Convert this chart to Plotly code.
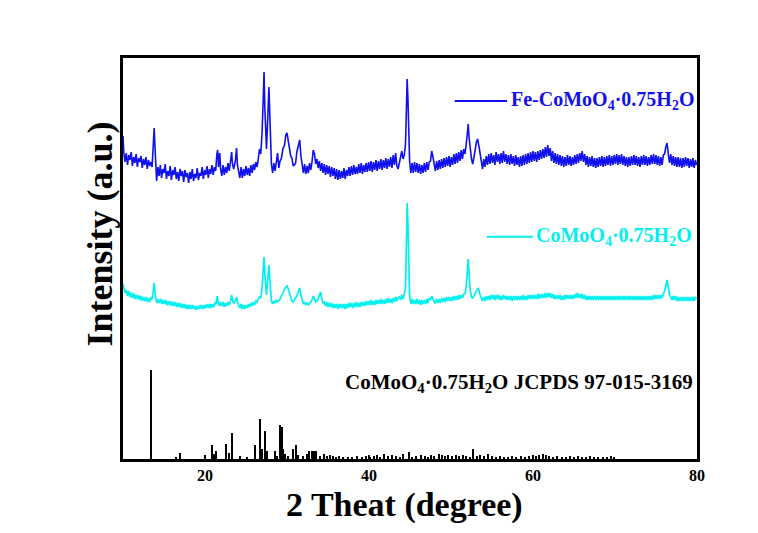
import plotly.graph_objects as go

# ---------------- data ----------------
# Fe-CoMoO4·0.75H2O pattern: (2theta, intensity a.u.)
fe_pattern = [
(10.0,73),(10.1,56),(10.25,47),(10.4,56),(10.55,44),(10.7,54),(10.85,49),(11.0,57),(11.15,43),(11.3,52),
(11.45,46),(11.6,55),(11.75,42),(11.9,51),(12.05,47),(12.2,53),(12.35,41),(12.5,50),(12.65,44),(12.8,52),
(12.95,40),(13.1,49),(13.25,43),(13.4,47),(13.55,42),(13.7,60),(13.8,81),(13.9,62),(14.0,44),(14.1,28),
(14.25,42),(14.4,33),(14.55,44),(14.7,31),(14.85,40),(15.0,36),(15.15,45),(15.3,30),(15.45,38),(15.6,33),
(15.75,43),(15.9,29),(16.05,39),(16.2,34),(16.35,42),(16.5,30),(16.65,37),(16.8,28),(16.95,40),(17.1,33),
(17.25,38),(17.4,27),(17.55,39),(17.7,32),(17.85,36),(18.0,26),(18.15,37),(18.3,30),(18.45,40),(18.6,28),
(18.75,35),(18.9,31),(19.05,41),(19.2,29),(19.35,36),(19.5,33),(19.65,42),(19.8,30),(19.95,39),(20.1,34),
(20.25,43),(20.4,31),(20.55,40),(20.7,35),(20.85,44),(21.0,34),(21.15,42),(21.3,38),(21.45,55),(21.55,59),
(21.65,42),(21.8,56),(21.9,40),(22.05,33),(22.2,44),(22.35,34),(22.5,42),(22.65,36),(22.8,46),(22.95,38),
(23.1,47),(23.25,57),(23.35,45),(23.5,40),(23.7,48),(23.85,61),(23.95,44),(24.1,36),(24.25,31),(24.4,42),
(24.55,31),(24.7,40),(24.85,33),(25.0,43),(25.15,34),(25.3,41),(25.45,33),(25.6,44),(25.75,36),(25.9,45),
(26.05,39),(26.2,47),(26.35,42),(26.5,50),(26.65,60),(26.8,55),(26.95,75),(27.1,110),(27.2,137),(27.3,100),
(27.4,70),(27.5,60),(27.6,80),(27.7,115),(27.8,122),(27.9,95),(28.0,60),(28.1,45),(28.25,36),(28.4,46),
(28.55,38),(28.7,50),(28.85,56),(29.0,41),(29.15,48),(29.3,50),(29.5,60),(29.7,64),(29.85,74),(30.0,76),
(30.15,68),(30.3,63),(30.45,53),(30.6,51),(30.75,43),(30.9,44),(31.05,46),(31.2,57),(31.4,63),(31.55,69),
(31.7,53),(31.85,45),(32.0,36),(32.15,45),(32.3,35),(32.45,43),(32.6,36),(32.75,46),(32.9,39),(33.05,47),
(33.2,59),(33.35,55),(33.5,45),(33.65,50),(33.8,41),(33.95,48),(34.1,38),(34.25,46),(34.4,36),(34.55,45),
(34.7,34),(34.85,44),(35.0,35),(35.15,43),(35.3,32),(35.45,42),(35.6,33),(35.75,41),(35.9,30),(36.05,40),
(36.2,29),(36.35,39),(36.5,30),(36.65,38),(36.8,31),(36.95,41),(37.1,30),(37.25,39),(37.4,33),(37.55,42),
(37.7,33),(37.85,43),(38.0,34),(38.15,44),(38.3,35),(38.45,42),(38.6,35),(38.75,45),(38.9,36),(39.05,46),
(39.2,35),(39.35,44),(39.5,37),(39.65,46),(39.8,37),(39.95,47),(40.1,38),(40.25,48),(40.4,37),(40.55,47),
(40.7,39),(40.85,49),(41.0,38),(41.15,48),(41.3,40),(41.45,50),(41.6,39),(41.75,49),(41.9,41),(42.05,51),
(42.2,40),(42.35,50),(42.5,42),(42.65,52),(42.8,41),(42.95,54),(43.1,44),(43.25,56),(43.4,43),(43.55,40),
(43.7,48),(43.85,52),(44.0,58),(44.15,50),(44.3,54),(44.45,65),(44.55,95),(44.65,130),(44.75,110),(44.85,75),
(44.95,48),(45.1,36),(45.25,46),(45.4,36),(45.55,47),(45.7,37),(45.85,46),(46.0,36),(46.15,45),(46.3,35),
(46.45,44),(46.6,36),(46.75,46),(46.9,37),(47.05,47),(47.2,39),(47.35,47),(47.5,48),(47.65,58),(47.8,52),
(47.95,42),(48.1,38),(48.25,48),(48.4,39),(48.55,49),(48.7,40),(48.85,50),(49.0,41),(49.15,51),(49.3,42),
(49.45,52),(49.6,43),(49.75,53),(49.9,42),(50.05,52),(50.2,44),(50.35,55),(50.5,45),(50.65,56),(50.8,46),
(50.95,57),(51.1,48),(51.25,59),(51.4,50),(51.55,60),(51.7,55),(51.85,64),(52.0,75),(52.1,85),(52.2,72),
(52.35,58),(52.5,50),(52.65,45),(52.8,55),(52.95,59),(53.1,67),(53.25,70),(53.4,63),(53.55,56),(53.7,45),
(53.85,40),(54.0,50),(54.15,42),(54.3,53),(54.45,44),(54.6,55),(54.75,45),(54.9,56),(55.05,46),(55.2,54),
(55.35,44),(55.5,57),(55.65,47),(55.8,55),(55.95,45),(56.1,56),(56.25,46),(56.4,58),(56.55,47),(56.7,55),
(56.85,45),(57.0,54),(57.15,44),(57.3,55),(57.45,45),(57.6,53),(57.75,43),(57.9,54),(58.05,44),(58.2,52),
(58.35,42),(58.5,53),(58.65,43),(58.8,54),(58.95,44),(59.1,55),(59.25,45),(59.4,56),(59.55,46),(59.7,57),
(59.85,47),(60.0,58),(60.15,48),(60.3,57),(60.45,47),(60.6,58),(60.75,49),(60.9,59),(61.05,50),(61.2,60),
(61.35,51),(61.5,62),(61.65,52),(61.8,64),(61.95,53),(62.1,61),(62.25,48),(62.4,58),(62.55,46),(62.7,56),
(62.85,45),(63.0,55),(63.15,44),(63.3,54),(63.45,43),(63.6,53),(63.75,42),(63.9,52),(64.05,43),(64.2,54),
(64.35,44),(64.5,53),(64.65,43),(64.8,52),(64.95,44),(65.1,54),(65.25,45),(65.4,55),(65.55,46),(65.7,56),
(65.85,48),(66.0,58),(66.15,47),(66.3,55),(66.45,44),(66.6,53),(66.75,42),(66.9,52),(67.05,43),(67.2,53),
(67.35,42),(67.5,51),(67.65,41),(67.8,51),(67.95,42),(68.1,52),(68.25,43),(68.4,53),(68.55,42),(68.7,52),
(68.85,43),(69.0,53),(69.15,44),(69.3,54),(69.45,43),(69.6,53),(69.75,44),(69.9,54),(70.05,45),(70.2,55),
(70.35,44),(70.5,54),(70.65,45),(70.8,55),(70.95,44),(71.1,53),(71.25,43),(71.4,52),(71.55,42),(71.7,52),
(71.85,43),(72.0,53),(72.15,44),(72.3,54),(72.45,44),(72.6,53),(72.75,43),(72.9,52),(73.05,42),(73.2,53),
(73.35,44),(73.5,54),(73.65,44),(73.8,53),(73.95,43),(74.1,52),(74.25,44),(74.4,54),(74.55,45),(74.7,55),
(74.85,45),(75.0,54),(75.15,44),(75.3,53),(75.45,43),(75.6,52),(75.75,44),(75.9,54),(76.05,55),(76.2,62),
(76.35,66),(76.5,55),(76.65,46),(76.8,55),(76.95,44),(77.1,53),(77.25,43),(77.4,52),(77.55,42),(77.7,52),
(77.85,42),(78.0,51),(78.15,41),(78.3,51),(78.45,42),(78.6,52),(78.75,43),(78.9,51),(79.05,41),(79.2,50),
(79.35,42),(79.5,51),(79.65,41),(79.8,49),(79.95,44),
]

# CoMoO4·0.75H2O pattern: (2theta, intensity a.u.)
co_pattern = [
(10.0,55),(10.1,50),(10.25,46),(10.4,49),(10.55,43),(10.7,48),(10.85,42),(11.0,46),(11.15,41),(11.3,46),
(11.45,40),(11.6,44),(11.75,40),(11.9,44),(12.05,39),(12.2,43),(12.35,38),(12.5,42),(12.65,38),(12.8,42),
(12.95,37),(13.1,41),(13.25,37),(13.4,41),(13.55,40),(13.7,48),(13.8,56),(13.9,47),(14.0,40),(14.15,36),
(14.3,40),(14.45,36),(14.6,40),(14.75,35),(14.9,39),(15.05,35),(15.2,39),(15.35,34),(15.5,38),(15.65,34),
(15.8,38),(15.95,33),(16.1,37),(16.25,33),(16.4,37),(16.55,32),(16.7,36),(16.85,32),(17.0,36),(17.15,31),
(17.3,35),(17.45,31),(17.6,35),(17.75,30),(17.9,34),(18.05,30),(18.2,34),(18.35,30),(18.5,34),(18.65,30),
(18.8,33),(18.95,29),(19.1,33),(19.25,30),(19.4,34),(19.55,30),(19.7,34),(19.85,30),(20.0,34),(20.15,31),
(20.3,35),(20.45,31),(20.6,35),(20.75,31),(20.9,35),(21.05,32),(21.2,36),(21.35,35),(21.5,43),(21.6,37),
(21.75,33),(21.9,37),(22.05,33),(22.2,37),(22.35,32),(22.5,36),(22.65,33),(22.8,37),(22.95,34),(23.1,38),
(23.25,44),(23.4,37),(23.55,36),(23.7,38),(23.85,42),(23.95,37),(24.1,33),(24.25,31),(24.4,35),(24.55,30),
(24.7,34),(24.85,30),(25.0,34),(25.15,31),(25.3,35),(25.45,32),(25.6,36),(25.75,33),(25.9,37),(26.05,34),
(26.2,38),(26.35,37),(26.5,40),(26.65,42),(26.8,41),(26.95,50),(27.1,70),(27.2,82),(27.3,65),(27.4,48),
(27.5,44),(27.6,55),(27.7,68),(27.8,74),(27.9,60),(28.0,45),(28.1,38),(28.25,35),(28.4,38),(28.55,36),
(28.7,39),(28.85,37),(29.0,38),(29.15,40),(29.3,42),(29.5,46),(29.7,50),(29.85,52),(30.0,53),(30.15,50),
(30.3,45),(30.45,41),(30.6,38),(30.75,37),(30.9,39),(31.05,40),(31.2,43),(31.4,48),(31.55,51),(31.7,44),
(31.85,38),(32.0,35),(32.15,37),(32.3,34),(32.45,36),(32.6,34),(32.75,36),(32.9,37),(33.05,39),(33.2,43),
(33.35,41),(33.5,37),(33.65,38),(33.8,40),(33.95,44),(34.1,47),(34.25,40),(34.4,36),(34.55,37),(34.7,33),
(34.85,37),(35.0,32),(35.15,36),(35.3,32),(35.45,36),(35.6,31),(35.75,35),(35.9,31),(36.05,35),(36.2,30),
(36.35,35),(36.5,31),(36.65,35),(36.8,31),(36.95,35),(37.1,30),(37.25,35),(37.4,31),(37.55,36),(37.7,32),
(37.85,36),(38.0,31),(38.15,36),(38.3,32),(38.45,37),(38.6,32),(38.75,36),(38.9,32),(39.05,37),(39.2,33),
(39.35,37),(39.5,33),(39.65,38),(39.8,34),(39.95,38),(40.1,34),(40.25,39),(40.4,34),(40.55,38),(40.7,34),
(40.85,39),(41.0,35),(41.15,39),(41.3,35),(41.45,40),(41.6,35),(41.75,39),(41.9,35),(42.05,40),(42.2,36),
(42.35,41),(42.5,36),(42.65,40),(42.8,36),(42.95,41),(43.1,37),(43.25,42),(43.4,38),(43.55,41),(43.7,42),
(43.85,39),(44.0,44),(44.15,40),(44.3,45),(44.45,50),(44.55,90),(44.65,136),(44.75,115),(44.85,65),(44.95,44),
(45.1,35),(45.25,40),(45.4,35),(45.55,39),(45.7,35),(45.85,40),(46.0,35),(46.15,39),(46.3,34),(46.45,39),
(46.6,35),(46.75,39),(46.9,35),(47.05,40),(47.2,36),(47.35,41),(47.5,39),(47.65,43),(47.8,40),(47.95,37),
(48.1,36),(48.25,40),(48.4,36),(48.55,40),(48.7,36),(48.85,41),(49.0,37),(49.15,41),(49.3,37),(49.45,42),
(49.6,38),(49.75,42),(49.9,38),(50.05,42),(50.2,38),(50.35,43),(50.5,39),(50.65,43),(50.8,39),(50.95,44),
(51.1,40),(51.25,44),(51.4,41),(51.55,45),(51.7,45),(51.85,52),(52.0,68),(52.1,80),(52.2,66),(52.35,48),
(52.5,42),(52.65,41),(52.8,43),(52.95,45),(53.1,48),(53.25,51),(53.4,49),(53.55,44),(53.7,40),(53.85,38),
(54.0,42),(54.15,38),(54.3,43),(54.45,39),(54.6,43),(54.75,39),(54.9,44),(55.05,40),(55.2,44),(55.35,39),
(55.5,44),(55.65,40),(55.8,44),(55.95,39),(56.1,43),(56.25,39),(56.4,44),(56.55,40),(56.7,43),(56.85,39),
(57.0,43),(57.15,39),(57.3,43),(57.45,38),(57.6,43),(57.75,39),(57.9,43),(58.05,39),(58.2,43),(58.35,39),
(58.5,43),(58.65,39),(58.8,44),(58.95,39),(59.1,43),(59.25,39),(59.4,44),(59.55,40),(59.7,44),(59.85,40),
(60.0,44),(60.15,40),(60.3,44),(60.45,40),(60.6,45),(60.75,40),(60.9,45),(61.05,41),(61.2,45),(61.35,41),
(61.5,46),(61.65,41),(61.8,46),(61.95,42),(62.1,46),(62.25,41),(62.4,45),(62.55,40),(62.7,44),(62.85,40),
(63.0,44),(63.15,40),(63.3,44),(63.45,39),(63.6,43),(63.75,39),(63.9,44),(64.05,40),(64.2,44),(64.35,40),
(64.5,44),(64.65,40),(64.8,44),(64.95,40),(65.1,45),(65.25,41),(65.4,46),(65.55,41),(65.7,45),(65.85,41),
(66.0,45),(66.15,40),(66.3,44),(66.45,39),(66.6,43),(66.75,39),(66.9,43),(67.05,39),(67.2,43),(67.35,39),
(67.5,43),(67.65,39),(67.8,43),(67.95,39),(68.1,43),(68.25,39),(68.4,43),(68.55,39),(68.7,43),(68.85,39),
(69.0,43),(69.15,39),(69.3,43),(69.45,39),(69.6,43),(69.75,39),(69.9,43),(70.05,39),(70.2,43),(70.35,39),
(70.5,43),(70.65,39),(70.8,43),(70.95,39),(71.1,43),(71.25,39),(71.4,43),(71.55,39),(71.7,43),(71.85,39),
(72.0,43),(72.15,39),(72.3,43),(72.45,39),(72.6,43),(72.75,39),(72.9,43),(73.05,39),(73.2,43),(73.35,39),
(73.5,43),(73.65,39),(73.8,43),(73.95,39),(74.1,43),(74.25,39),(74.4,43),(74.55,39),(74.7,44),(74.85,40),
(75.0,44),(75.15,40),(75.3,44),(75.45,40),(75.6,44),(75.75,41),(75.9,45),(76.05,48),(76.2,53),(76.35,59),
(76.5,52),(76.65,44),(76.8,42),(76.95,39),(77.1,43),(77.25,39),(77.4,43),(77.55,38),(77.7,42),(77.85,38),
(78.0,42),(78.15,38),(78.3,42),(78.45,38),(78.6,42),(78.75,38),(78.9,42),(79.05,38),(79.2,42),(79.35,38),
(79.5,42),(79.65,38),(79.8,42),(79.95,40),
]

# JCPDS 97-015-3169 reference lines
ref_pos = [13.45, 16.5, 17.0, 20.9, 21.15, 21.4, 22.6, 22.9, 23.35, 24.3, 25.2, 26.15, 26.7, 27.0,
           27.3, 27.55, 28.5, 28.8, 29.15, 29.35, 29.55, 29.8, 30.1, 30.7, 31.1, 31.4, 32.0, 32.5,
           32.75, 33.05, 33.3, 33.5, 34.1, 34.5, 34.9, 35.3, 35.6, 36.0, 36.4, 36.9, 37.4, 38.0,
           38.6, 39.2, 39.7, 40.1, 40.6, 41.0, 41.4, 41.9, 42.3, 42.8, 43.3, 43.8, 44.2, 44.9,
           45.3, 45.8, 46.3, 46.8, 47.2, 47.6, 48.0, 48.5, 48.9, 49.3, 49.7, 50.1, 50.6, 51.0,
           51.5, 51.9, 52.3, 52.75, 53.2, 53.6, 54.0, 54.5, 55.0, 55.5, 56.0, 56.5, 57.0, 57.5,
           58.0, 58.5, 59.0, 59.5, 60.0, 60.4, 60.8, 61.2, 61.6, 62.0, 62.5, 63.0, 63.5, 64.0,
           64.5, 65.0, 65.5, 66.0, 66.5, 67.0, 67.5, 68.0, 68.5, 69.0, 69.5, 69.9]
ref_int = [89, 2, 6, 14, 5, 8, 15, 6, 26, 3, 2, 14, 40, 10,
           28, 8, 8, 3, 34, 32, 10, 5, 3, 10, 14, 4, 3, 5,
           8, 8, 8, 8, 3, 5, 3, 4, 3, 2, 3, 2, 2, 2,
           3, 2, 3, 2, 3, 4, 2, 5, 3, 4, 3, 2, 5, 7,
           2, 3, 4, 3, 2, 4, 3, 5, 4, 3, 4, 3, 4, 3,
           4, 3, 2, 10, 3, 4, 3, 5, 3, 2, 3, 2, 2, 3,
           2, 3, 2, 3, 2, 3, 4, 5, 4, 3, 2, 3, 2, 2,
           3, 2, 3, 2, 2, 3, 2, 2, 2, 2, 3, 2]

x_ticks = [20, 40, 60, 80]
fe_offset = 250
co_offset = 120

FONT = "Liberation Serif"
BLUE = "#1010EE"
CYAN = "#00F0F0"

fe_x = [p[0] for p in fe_pattern]
fe_y = [p[1] + fe_offset for p in fe_pattern]
co_x = [p[0] for p in co_pattern]
co_y = [p[1] + co_offset for p in co_pattern]

fig = go.Figure()
fig.add_trace(go.Bar(x=ref_pos, y=ref_int, width=0.16, marker=dict(color="black", line=dict(width=0)),
                     showlegend=False))
fig.add_trace(go.Scatter(x=co_x, y=co_y, mode="lines", line=dict(color=CYAN, width=1.7), showlegend=False))
fig.add_trace(go.Scatter(x=fe_x, y=fe_y, mode="lines", line=dict(color=BLUE, width=1.6), showlegend=False))

# legend-like samples
fig.add_shape(type="line", xref="paper", yref="paper", x0=0.578, x1=0.669, y0=0.893, y1=0.893,
              line=dict(color=BLUE, width=2))
fig.add_shape(type="line", xref="paper", yref="paper", x0=0.634, x1=0.714, y0=0.554, y1=0.554,
              line=dict(color=CYAN, width=2))
fig.add_annotation(xref="paper", yref="paper", x=0.673, y=0.893, xanchor="left", yanchor="middle",
                   text="Fe-CoMoO<sub>4</sub>·0.75H<sub>2</sub>O", showarrow=False,
                   font=dict(family=FONT, size=20, color=BLUE, weight="bold"))
fig.add_annotation(xref="paper", yref="paper", x=0.716, y=0.554, xanchor="left", yanchor="middle",
                   text="CoMoO<sub>4</sub>·0.75H<sub>2</sub>O", showarrow=False,
                   font=dict(family=FONT, size=20, color=CYAN, weight="bold"))
fig.add_annotation(xref="paper", yref="paper", x=0.997, y=0.19, xanchor="right", yanchor="middle",
                   text="CoMoO<sub>4</sub>·0.75H<sub>2</sub>O JCPDS 97-015-3169", showarrow=False,
                   font=dict(family=FONT, size=21, color="black", weight="bold"))

# axis titles
fig.add_annotation(xref="paper", yref="paper", x=0.49, y=-0.115, xanchor="center", yanchor="middle",
                   text="2 Theat (degree)", showarrow=False,
                   font=dict(family=FONT, size=34, color="black", weight="bold"))
fig.add_annotation(xref="paper", yref="paper", x=-0.04, y=0.56, xanchor="center", yanchor="middle",
                   text="Intensity (a.u.)", textangle=-90, showarrow=False,
                   font=dict(family=FONT, size=36, color="black", weight="bold"))

fig.update_layout(
    width=758, height=533,
    margin=dict(l=123, r=61, t=58, b=74),
    plot_bgcolor="white", paper_bgcolor="white",
    bargap=0,
    font=dict(family=FONT, color="black"),
    xaxis=dict(range=[10, 80], tickvals=x_ticks, ticks="inside", ticklen=4, tickwidth=1.5,
               tickcolor="black", showline=True, linecolor="black", linewidth=2.5, mirror=True,
               showgrid=False, zeroline=False,
               tickfont=dict(family=FONT, size=16, color="black", weight="bold")),
    yaxis=dict(range=[0, 401], showticklabels=False, ticks="", showline=True, linecolor="black",
               linewidth=2.5, mirror=True, showgrid=False, zeroline=False),
)

fig.write_html("out.html")
